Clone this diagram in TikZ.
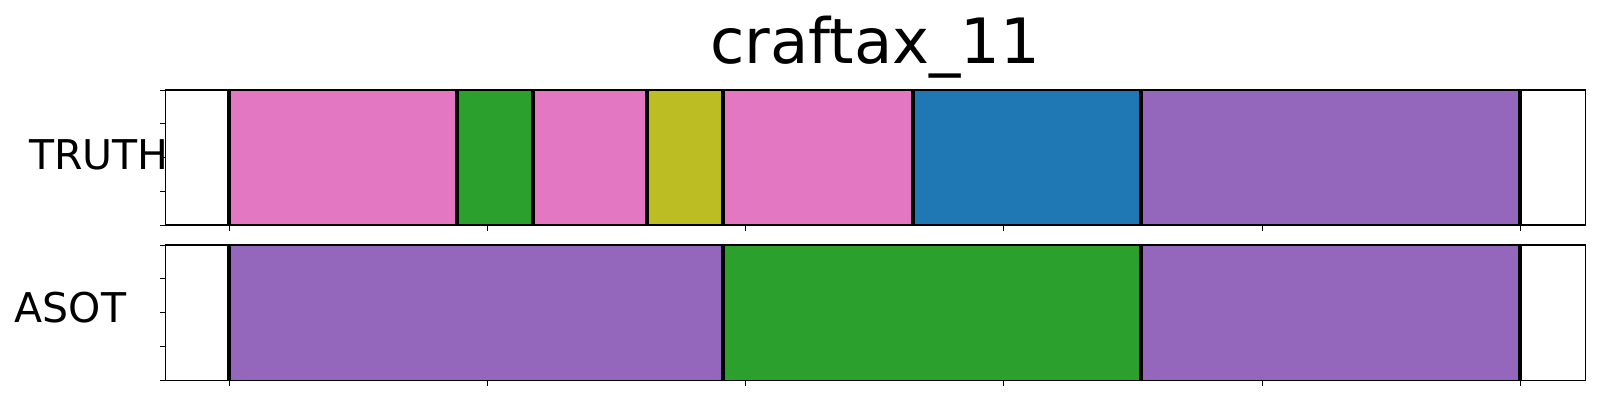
\documentclass[tikz,border=0pt]{standalone}
\usepackage{fontspec}
\setmainfont{DejaVu Sans}
\definecolor{tabpink}{HTML}{E377C2}
\definecolor{tabgreen}{HTML}{2CA02C}
\definecolor{tabolive}{HTML}{BCBD22}
\definecolor{tabblue}{HTML}{1F77B4}
\definecolor{tabpurple}{HTML}{9467BD}
\begin{document}
\begin{tikzpicture}[x=1pt,y=-1pt,
  bound/.style={line width=4pt,black},
  frame/.style={line width=1.1pt,black},
  tick/.style={line width=1pt,black},
  lab/.style={inner sep=0pt,font=\fontsize{41}{41}\selectfont}]
\useasboundingbox[fill=white] (0,0) rectangle (1600,400);
% title
\node[inner sep=0pt,anchor=base,font=\fontsize{62.5}{62.5}\selectfont] (title) at (875.3,63.3) {craftax\_11};
% ---- TRUTH axes ----
\fill[tabpink]   (229,90) rectangle (456.7,225);
\fill[tabgreen]  (456.7,90) rectangle (533,225);
\fill[tabpink]   (533,90) rectangle (646.7,225);
\fill[tabolive]  (646.7,90) rectangle (723,225);
\fill[tabpink]   (723,90) rectangle (912.7,225);
\fill[tabblue]   (912.7,90) rectangle (1141,225);
\fill[tabpurple] (1141,90) rectangle (1520,225);
\foreach \b in {229,456.7,533,646.7,723,912.7,1141,1520}
  \draw[bound] (\b,90) -- (\b,225);
\draw[frame] (165.3,90) rectangle (1585.3,225);
\foreach \t in {90,123.75,157.5,191.25,225}
  \draw[tick] (160,\t) -- (165.3,\t);
\foreach \t in {229,487.3,745.5,1003.8,1262,1520.3}
  \draw[tick] (\t,225) -- (\t,230.5);
% ---- ASOT axes ----
\fill[tabpurple] (229,245) rectangle (723,380.3);
\fill[tabgreen]  (723,245) rectangle (1141,380.3);
\fill[tabpurple] (1141,245) rectangle (1520,380.3);
\foreach \b in {229,723,1141,1520}
  \draw[bound] (\b,245) -- (\b,380.3);
\draw[frame] (165.3,245) rectangle (1585.3,380.3);
\foreach \t in {245,278.8,312.6,346.4,380.3}
  \draw[tick] (160,\t) -- (165.3,\t);
\foreach \t in {229,487.3,745.5,1003.8,1262,1520.3}
  \draw[tick] (\t,380.3) -- (\t,385.8);
% labels
\node[lab,anchor=base east] (truth) at (169,169) {TRUTH};
\node[lab,anchor=base west] (asot) at (14.5,322.7) {ASOT};
\end{tikzpicture}
\end{document}
